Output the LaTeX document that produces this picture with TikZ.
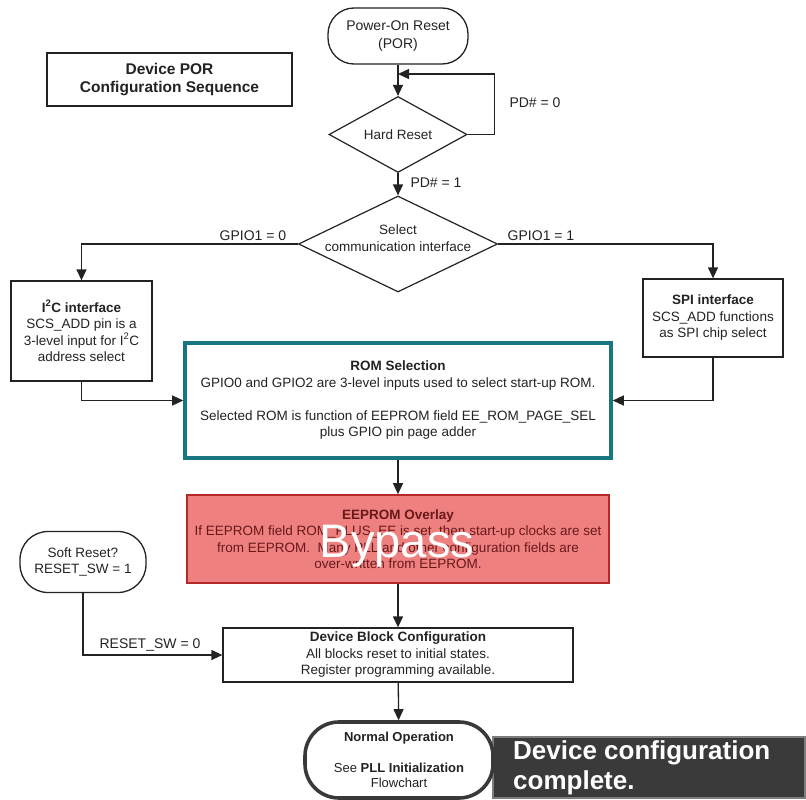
\documentclass[tikz,border=0pt]{standalone}
\usepackage{fontspec}
\setmainfont{Liberation Sans}
\usetikzlibrary{arrows.meta,shapes.geometric}

\definecolor{ink}{RGB}{35,35,35}
\definecolor{romteal}{RGB}{24,118,128}
\definecolor{eepfill}{RGB}{238,128,128}
\definecolor{eepline}{RGB}{180,40,40}
\definecolor{eeptext}{RGB}{105,25,25}
\definecolor{notefill}{RGB}{58,58,58}
\definecolor{noteline}{RGB}{125,125,125}

\newcommand\bodyfnt{\fontsize{13.5}{16.5}\selectfont}
\newcommand\labelfnt{\fontsize{14}{16.5}\selectfont}

\tikzset{
  flow/.style={draw=ink, line width=1.3pt, -{Triangle[length=11pt,width=10pt]}},
  stepbox/.style={draw=ink, line width=1.3pt, fill=white, align=center,
    font=\bodyfnt, text=ink, inner sep=0pt},
  term/.style={stepbox, rounded corners=26pt},
  decision/.style={draw=ink, line width=1.2pt, fill=white, diamond,
    inner sep=0pt},
  edgelabel/.style={font=\labelfnt, text=ink, inner sep=0pt},
}

\begin{document}
\begin{tikzpicture}[x=1pt, y=-1pt]
\useasboundingbox (0,0) rectangle (806,800);

% title
\node[stepbox, minimum width=245pt, minimum height=53pt,
  font=\fontsize{15.5}{18}\selectfont\bfseries] (title) at (169.5,79.5)
  {Device POR\\Configuration Sequence};

% start and reset decision
\node[term, minimum width=140pt, minimum height=56pt,
  font=\fontsize{14}{17.5}\selectfont] (por) at (398,36)
  {Power-On Reset\\(POR)};
\node[decision, minimum width=138pt, minimum height=76pt] (hr) at (398,134.5) {};
\node[font=\bodyfnt, text=ink] at (hr) {Hard Reset};
\coordinate (loopin) at (398,74);

\node[decision, minimum width=199pt, minimum height=96pt] (sel) at (398,244) {};
\node[font=\bodyfnt, text=ink, align=center] at (398,238) {Select\\communication interface};

% interface boxes
\node[stepbox, minimum width=141pt, minimum height=100pt] (i2c) at (81.5,331)
  {\textbf{I\textsuperscript{2}C interface}\\SCS\_ADD pin is a\\3-level input for I\textsuperscript{2}C\\address select};
\node[stepbox, minimum width=140pt, minimum height=78pt] (spi) at (713,318)
  {\textbf{SPI interface}\\SCS\_ADD functions\\as SPI chip select};

% ROM selection
\node[stepbox, draw=romteal, line width=3.6pt, minimum width=426pt,
  minimum height=115pt] (rom) at (398,400.5)
  {\textbf{ROM Selection}\\GPIO0 and GPIO2 are 3-level inputs used to select start-up ROM.\\[16.5pt]
   Selected ROM is function of EEPROM field EE\_ROM\_PAGE\_SEL\\plus GPIO pin page adder};

% EEPROM overlay, bypassed
\node[stepbox, draw=eepline, line width=1.6pt, fill=eepfill, text=eeptext,
  minimum width=422pt, minimum height=88pt] (eep) at (398,539)
  {\textbf{EEPROM Overlay}\\If EEPROM field ROM\_PLUS\_EE is set, then start-up clocks are set\\
   from EEPROM.\ \ Many PLL and other configuration fields are\\over-written from EEPROM.};
\node[anchor=base, text=white, font=\fontsize{47}{50}\selectfont, inner sep=0pt]
  (bypass) at (397,557) {Bypass};

% soft reset and block configuration
\node[term, minimum width=126pt, minimum height=61pt, rounded corners=28pt] (soft) at (83,562)
  {Soft Reset?\\RESET\_SW = 1};
\node[stepbox, minimum width=350pt, minimum height=54pt] (dbc) at (398,655)
  {\textbf{Device Block Configuration}\\All blocks reset to initial states.\\Register programming available.};

% completion note and end state
\node[draw=noteline, line width=1.4pt, fill=notefill, minimum width=312pt,
  minimum height=61pt, inner sep=0pt] (note) at (649,767.5) {};
\node[anchor=west, text=white, align=left, inner sep=0pt,
  font=\fontsize{26}{30}\selectfont\bfseries] at (513,768)
  {Device configuration\\complete.};
\node[term, draw=ink!90, line width=3.6pt, rounded corners=34pt,
  minimum width=188pt, minimum height=76pt,
  font=\fontsize{13}{15.5}\selectfont] (normal) at (399,760)
  {\textbf{Normal Operation}\\[15.5pt]See \textbf{PLL Initialization}\\Flowchart};

% connectors
\draw[flow] (por) -- (hr);
\draw[flow] (hr.east) -- ++(27,0) |- (loopin);
\node[edgelabel] at (535,103) {PD\# = 0};
\draw[flow] (hr) -- (sel);
\node[edgelabel] at (436,183) {PD\# = 1};

\draw[flow] (sel.west) -| (i2c.north);
\node[edgelabel] at (253,236) {GPIO1 = 0};
\draw[flow] (sel.east) -| (spi.north);
\node[edgelabel] at (541,236) {GPIO1 = 1};

\draw[flow] (i2c.south) |- (rom.west);
\draw[flow] (spi.south) |- (rom.east);
\draw[flow] (rom) -- (eep);
\draw[flow] (eep) -- (dbc);
\draw[flow] (soft.south) |- (dbc.west);
\node[edgelabel] at (150,645) {RESET\_SW = 0};
\draw[flow] (dbc) -- (normal);
\end{tikzpicture}
\end{document}
